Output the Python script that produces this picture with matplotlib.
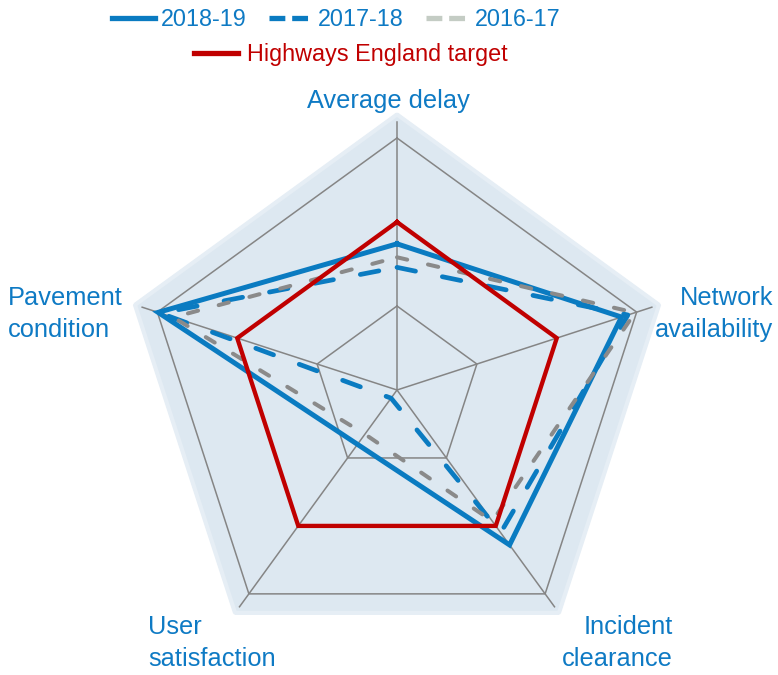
import numpy as np
import matplotlib
matplotlib.use('Agg')
import matplotlib.pyplot as plt
from matplotlib.lines import Line2D

plt.rcParams['font.family'] = ['Liberation Sans', 'DejaVu Sans']

categories = ['Average delay', 'Network\navailability', 'Incident\nclearance',
              'User\nsatisfaction', 'Pavement\ncondition']
y2018_19 = [1.74, 2.81, 2.28, 0.80, 2.99]
y2017_18 = [1.46, 2.89, 2.10, 0.12, 2.96]
y2016_17 = [1.58, 2.98, 1.93, 0.65, 2.80]
target = [2, 2, 2, 2, 2]
rings = [1, 3]

blue = '#0A7BC1'
red = '#C00000'
grey = '#8A8A8A'
grey_leg = '#C4CCC4'
txt_blue = '#0E7AC4'

W, H = 778, 675
fig = plt.figure(figsize=(W / 100, H / 100), dpi=100)

cx, cy = 397, 390
unit = 84
rmax = 3.3
R = rmax * unit
ax = fig.add_axes([(cx - R) / W, (H - cy - R) / H, 2 * R / W, 2 * R / H],
                  projection='polar')
ax.set_axis_off()
ax.set_ylim(0, rmax)

n = len(categories)
theta = np.deg2rad(90 - 72 * np.arange(n))
th_closed = np.append(theta, theta[0])


def closed(v):
    return np.append(v, v[0])


# background pentagon with soft edge
ax.fill(th_closed, np.full(n + 1, rmax), color='#DDE8F1', lw=0, zorder=0)
ax.plot(th_closed, np.full(n + 1, rmax - 0.02), color='#E6EEF5', lw=3, zorder=0.5)

# grid
for r in rings:
    ax.plot(th_closed, np.full(n + 1, r), color='#858585', lw=1.1, zorder=1)
for t in theta:
    ax.plot([t, t], [0, 3.19], color='#858585', lw=1.1, zorder=1)

ax.plot(th_closed, closed(y2018_19), color=blue, lw=3.6, solid_joinstyle='miter', zorder=2)
ax.plot(th_closed, closed(y2017_18), color=blue, lw=3.4, dashes=(4.0, 5.8),
        dash_capstyle='round', zorder=3)
ax.plot(th_closed, closed(y2016_17), color=grey, lw=2.9, dashes=(2.6, 5.3),
        dash_capstyle='round', zorder=4)
ax.plot(th_closed, closed(target), color=red, lw=3.1, solid_joinstyle='miter', zorder=5)

# axis labels
def ftext(x, y, s, ha):
    fig.text(x / W, 1 - y / H, s, ha=ha, va='center', color=txt_blue,
             fontsize=18.3, linespacing=1.38)

ftext(388, 101, categories[0], 'center')
ftext(773, 314, categories[1], 'right')
ftext(673, 643, categories[2], 'right')
ftext(148, 643, categories[3], 'left')
ftext(8, 314, categories[4], 'left')

# legend
h1 = [Line2D([], [], color=blue, lw=3.8),
      Line2D([], [], color=blue, lw=3.8, dashes=(3.0, 1.3)),
      Line2D([], [], color=grey_leg, lw=3.8, dashes=(3.0, 1.3))]
fig.legend(h1, ['2018-19', '2017-18', '2016-17'], loc='center',
           bbox_to_anchor=(336 / W, 1 - 20 / H), ncol=3, frameon=False,
           fontsize=16.8, handlelength=1.85, handletextpad=0.25,
           columnspacing=0.95, labelcolor=txt_blue, borderpad=0)
h2 = [Line2D([], [], color=red, lw=3.8)]
fig.legend(h2, ['Highways England target'], loc='center',
           bbox_to_anchor=(351 / W, 1 - 55 / H), frameon=False,
           fontsize=16.8, handlelength=1.85, handletextpad=0.4,
           labelcolor=red, borderpad=0)

fig.savefig('out.png', dpi=100)
